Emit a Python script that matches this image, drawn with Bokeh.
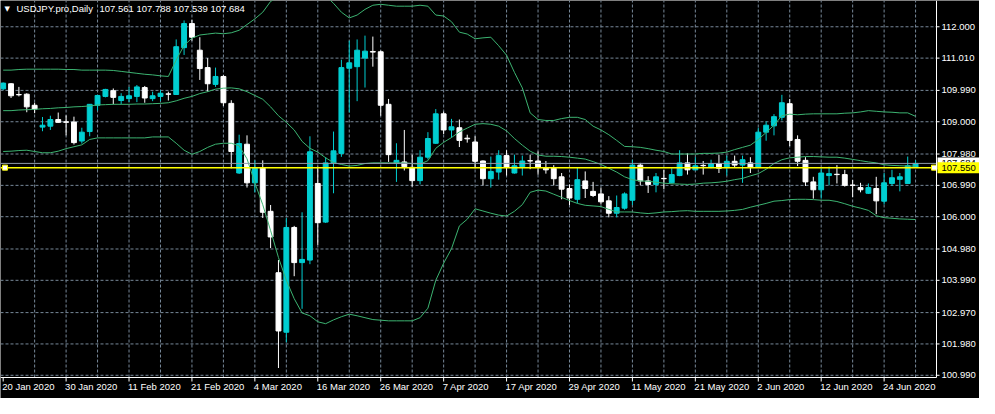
from bokeh.plotting import figure
from bokeh.models import Range1d, ColumnDataSource
from bokeh.core.properties import value
from bokeh.embed import file_html
from bokeh.resources import INLINE

symbol_text = "USDJPY.pro,Daily"
last_ohlc_text = "107.561 107.788 107.539 107.684"

opens = [110.04, 110.20, 109.86, 109.87, 109.52, 108.83, 108.86, 109.07, 109.00, 108.99,
         108.39, 108.69, 109.52, 109.80, 109.98, 109.67, 109.73, 109.80, 110.08, 109.73,
         109.80, 109.88, 109.86, 111.34, 112.10, 111.26, 110.71, 110.18, 110.43, 109.58,
         107.38, 108.29, 107.07, 107.53, 106.17, 104.23, 102.35, 105.66, 104.55, 104.63,
         107.05, 105.83, 107.70, 108.00, 110.69, 110.74, 111.01, 111.22, 111.21, 109.55,
         107.68, 107.73, 107.56, 107.14, 107.88, 108.32, 109.25, 108.74, 108.81, 108.48,
         108.36, 107.76, 107.20, 107.41, 107.93, 107.38, 107.58, 107.77, 107.76, 107.53,
         107.53, 107.26, 106.89, 106.55, 107.13, 106.80, 106.72, 106.50, 106.11, 106.27,
         106.52, 107.63, 107.13, 107.02, 107.21, 107.07, 107.30, 107.70, 107.48, 107.62,
         107.56, 107.68, 107.55, 107.75, 107.63, 107.70, 107.56, 108.67, 108.87, 109.14,
         109.57, 108.44, 107.78, 107.10, 106.85, 107.30, 107.34, 107.33, 107.00, 106.92,
         106.74, 106.89, 106.49, 107.05, 107.18, 107.05, 107.561]

highs = [110.24, 110.22, 110.10, 109.90, 109.60, 109.15, 109.19, 109.29, 109.20, 109.16,
         108.81, 109.56, 109.85, 110.04, 110.05, 109.90, 110.10, 110.16, 110.13, 109.95,
         110.00, 109.95, 111.60, 112.20, 112.22, 111.67, 111.01, 110.71, 110.47, 109.68,
         108.59, 108.57, 107.78, 107.78, 106.37, 104.63, 105.96, 105.71, 106.14, 108.54,
         107.58, 107.88, 108.69, 110.96, 111.56, 111.60, 111.72, 111.69, 111.25, 109.72,
         108.32, 108.74, 107.96, 108.10, 108.67, 109.40, 109.32, 109.09, 109.07, 108.59,
         108.54, 107.78, 107.90, 108.10, 108.10, 107.96, 107.93, 107.96, 108.06, 107.76,
         107.63, 107.38, 107.02, 107.55, 107.43, 107.10, 106.92, 106.65, 106.67, 106.77,
         107.80, 107.70, 107.28, 107.38, 107.48, 107.53, 108.10, 108.00, 107.88, 107.76,
         107.80, 107.96, 107.93, 107.93, 107.93, 107.88, 108.81, 109.01, 109.24, 109.85,
         109.72, 108.57, 107.88, 107.26, 107.53, 107.58, 107.63, 107.48, 107.16, 107.07,
         107.05, 107.26, 107.38, 107.48, 107.38, 107.90, 107.788]

lows = [110.00, 109.75, 109.80, 109.30, 109.27, 108.70, 108.74, 108.97, 108.57, 108.28,
        108.31, 108.54, 109.35, 109.77, 109.55, 109.55, 109.62, 109.62, 109.60, 109.65,
        109.65, 109.67, 109.86, 111.11, 111.56, 110.32, 109.95, 110.10, 109.50, 107.53,
        107.35, 106.92, 106.77, 105.96, 105.01, 101.22, 102.03, 104.12, 103.09, 104.50,
        105.11, 105.80, 106.74, 107.89, 109.29, 109.65, 110.08, 110.74, 109.19, 107.73,
        107.10, 107.46, 106.95, 107.02, 107.81, 108.30, 108.61, 108.49, 108.20, 108.34,
        107.53, 106.99, 106.92, 107.17, 107.30, 107.36, 107.30, 107.50, 107.33, 107.36,
        106.99, 106.55, 106.37, 106.42, 106.59, 106.62, 106.39, 105.98, 105.98, 106.22,
        106.37, 106.99, 106.75, 106.77, 106.87, 107.05, 107.28, 107.33, 107.47, 107.33,
        107.53, 107.38, 107.30, 107.56, 107.07, 107.38, 107.55, 108.40, 108.57, 109.04,
        108.23, 107.60, 106.97, 106.57, 106.57, 106.99, 107.05, 106.95, 106.62, 106.77,
        106.72, 106.08, 106.39, 106.97, 106.80, 107.05, 107.539]

closes = [110.22, 109.82, 109.85, 109.47, 109.40, 108.89, 109.07, 108.98, 108.98, 108.34,
          108.67, 109.55, 109.83, 110.02, 109.77, 109.80, 109.82, 110.10, 109.75, 109.82,
          109.90, 109.87, 111.37, 112.10, 111.67, 110.68, 110.20, 110.43, 109.60, 108.06,
          108.31, 107.07, 107.53, 106.14, 105.36, 102.39, 105.66, 104.55, 104.65, 108.05,
          105.81, 107.70, 108.08, 110.71, 110.86, 111.26, 111.23, 111.20, 109.52, 107.96,
          107.78, 107.58, 107.14, 107.88, 108.47, 109.25, 108.74, 108.84, 108.41, 108.46,
          107.75, 107.20, 107.43, 107.93, 107.56, 107.61, 107.76, 107.76, 107.56, 107.48,
          107.20, 106.87, 106.59, 107.17, 106.89, 106.67, 106.47, 106.11, 106.29, 106.72,
          107.63, 107.13, 107.02, 107.26, 107.20, 107.33, 107.70, 107.48, 107.61, 107.61,
          107.68, 107.53, 107.75, 107.63, 107.80, 107.56, 108.67, 108.89, 109.16, 109.60,
          108.41, 107.75, 107.10, 106.85, 107.38, 107.36, 107.33, 106.99, 106.99, 106.85,
          106.92, 106.50, 107.07, 107.23, 107.26, 107.61, 107.684]

bb_upper = [110.63, 110.63, 110.65, 110.66, 110.66, 110.66, 110.66, 110.66, 110.65, 110.65,
            110.63, 110.63, 110.63, 110.63, 110.62, 110.59, 110.56, 110.53, 110.50, 110.48,
            110.45, 110.43, 110.95, 111.41, 111.64, 111.74, 111.77, 111.80, 111.78, 111.81,
            111.89, 112.07, 112.25, 112.46, 112.80, 112.95, 113.13, 113.25, 113.31, 113.28,
            113.19, 112.98, 112.74, 112.46, 112.28, 112.37, 112.55, 112.68, 112.71, 112.68,
            112.65, 112.65, 112.65, 112.68, 112.65, 112.37, 112.34, 112.16, 111.83, 111.77,
            111.62, 111.65, 111.67, 111.40, 111.10, 110.56, 110.07, 109.28, 109.07, 109.04,
            109.04, 109.10, 109.14, 109.14, 109.07, 108.86, 108.74, 108.59, 108.41, 108.22,
            108.21, 108.19, 108.15, 108.10, 108.06, 107.98, 107.98, 107.98, 107.98, 108.00,
            108.00, 108.01, 108.04, 108.12, 108.19, 108.26, 108.44, 108.66, 108.89, 109.19,
            109.24, 109.22, 109.24, 109.25, 109.25, 109.25, 109.25, 109.27, 109.28, 109.31,
            109.35, 109.33, 109.31, 109.30, 109.28, 109.28, 109.17]

bb_middle = [109.35, 109.35, 109.37, 109.38, 109.39, 109.41, 109.42, 109.44, 109.45, 109.47,
             109.48, 109.50, 109.53, 109.54, 109.55, 109.55, 109.55, 109.56, 109.56, 109.57,
             109.58, 109.60, 109.66, 109.74, 109.80, 109.89, 109.95, 110.03, 110.06, 110.07,
             110.04, 109.95, 109.83, 109.71, 109.47, 109.19, 108.98, 108.74, 108.38, 108.16,
             108.04, 107.86, 107.71, 107.65, 107.60, 107.62, 107.68, 107.70, 107.70, 107.70,
             107.70, 107.70, 107.68, 107.66, 107.77, 108.16, 108.35, 108.50, 108.68, 108.80,
             108.92, 108.94, 108.92, 108.86, 108.71, 108.47, 108.26, 108.07, 107.95, 107.91,
             107.91, 107.90, 107.88, 107.85, 107.82, 107.74, 107.65, 107.53, 107.41, 107.26,
             107.17, 107.13, 107.12, 107.09, 107.06, 107.04, 107.03, 107.02, 107.03, 107.06,
             107.07, 107.09, 107.12, 107.17, 107.21, 107.29, 107.36, 107.50, 107.68, 107.80,
             107.86, 107.88, 107.90, 107.90, 107.89, 107.88, 107.88, 107.85, 107.81, 107.77,
             107.73, 107.70, 107.64, 107.62, 107.61, 107.60, 107.60]

bb_lower = [108.06, 108.07, 108.09, 108.10, 108.06, 108.02, 108.02, 108.07, 108.15, 108.21,
            108.27, 108.44, 108.49, 108.49, 108.49, 108.49, 108.49, 108.49, 108.49, 108.52,
            108.52, 108.52, 108.32, 108.10, 107.97, 108.06, 108.19, 108.29, 108.32, 108.32,
            108.24, 107.83, 107.07, 106.38, 105.56, 104.71, 103.99, 103.41, 102.96, 102.87,
            102.68, 102.62, 102.74, 102.84, 102.92, 102.87, 102.81, 102.75, 102.73, 102.71,
            102.71, 102.71, 102.71, 102.81, 103.11, 103.99, 104.53, 104.99, 105.71, 105.92,
            106.25, 106.18, 106.11, 106.05, 106.02, 106.17, 106.38, 106.77, 106.84, 106.81,
            106.71, 106.61, 106.51, 106.42, 106.36, 106.34, 106.32, 106.23, 106.15, 106.15,
            106.15, 106.12, 106.10, 106.12, 106.15, 106.16, 106.18, 106.19, 106.17, 106.17,
            106.17, 106.17, 106.18, 106.20, 106.23, 106.30, 106.36, 106.42, 106.49, 106.51,
            106.54, 106.55, 106.55, 106.54, 106.52, 106.52, 106.48, 106.41, 106.33, 106.27,
            106.20, 106.03, 105.97, 105.95, 105.93, 105.92, 105.91]

date_tick_index = [0, 8, 16, 24, 32, 40, 48, 56, 64, 72, 80, 88, 96, 104, 112]
date_tick_labels = ["20 Jan 2020", "30 Jan 2020", "11 Feb 2020", "21 Feb 2020", "4 Mar 2020",
                    "16 Mar 2020", "26 Mar 2020", "7 Apr 2020", "17 Apr 2020", "29 Apr 2020",
                    "11 May 2020", "21 May 2020", "2 Jun 2020", "12 Jun 2020", "24 Jun 2020"]
price_ticks = [100.99, 101.98, 102.97, 103.99, 104.98, 106.00, 106.99, 107.98, 109.00, 109.99, 111.01, 112.00]
price_tick_labels = ["100.990", "101.980", "102.970", "103.990", "104.980", "106.000",
                     "106.990", "107.980", "109.000", "109.990", "111.010", "112.000"]
hline_price = 107.55
hline_label = "107.550"
bid_price = 107.684
bid_label = "107.684"

BULL = "#00CED1"
BEAR = "#FFFFFF"
BAND = "#3CB371"
GRID = "#778899"
FONT = "Liberation Sans"

# canvas and chart-area geometry (the price scale and time scale are drawn in the frame)
W, H = 979, 398
CW, CH = 936, 377
x_lo, x_hi = -0.34, 118.66
y_lo, y_hi = 100.92, 112.83
px_x = CW / (x_hi - x_lo)
px_y = CH / (y_hi - y_lo)
dx, dy = 1.0 / px_x, 1.0 / px_y
x_full = x_lo + W / px_x
y_full = y_hi - H / px_y

n = len(opens)
idx = list(range(n))
colors = [BULL if c > o else BEAR for o, c in zip(opens, closes)]
src = ColumnDataSource(dict(
    x=idx, open=opens, high=highs, low=lows, close=closes,
    top=[max(o, c) for o, c in zip(opens, closes)],
    bottom=[min(o, c) for o, c in zip(opens, closes)],
    color=colors))

p = figure(width=W, height=H, x_range=Range1d(x_lo, x_full), y_range=Range1d(y_full, y_hi),
           output_backend="svg", toolbar_location=None, x_axis_location=None, y_axis_location=None,
           min_border=0, background_fill_color="black", border_fill_color="black",
           outline_line_color=None)
p.xgrid.visible = False
p.ygrid.visible = False

# dashed grid inside the chart area
grid_x = list(range(4, n, 4))
p.segment(x0=grid_x, y0=[y_lo] * len(grid_x), x1=grid_x, y1=[y_hi] * len(grid_x),
          line_color=GRID, line_width=1, line_dash="3 2")
p.segment(x0=[x_lo] * len(price_ticks), y0=price_ticks, x1=[x_hi] * len(price_ticks), y1=price_ticks,
          line_color=GRID, line_width=1, line_dash="3 2")

# candles
p.segment(x0="x", y0="low", x1="x", y1="high", line_color="color", line_width=1, source=src)
p.vbar(x="x", width=0.62, top="top", bottom="bottom", fill_color="color", line_color="color",
       line_width=1, source=src)

# Bollinger bands
for band in (bb_upper, bb_middle, bb_lower):
    p.line(idx, band, line_color=BAND, line_width=1)

# bid line and horizontal line object
p.segment(x0=[x_lo], y0=[bid_price], x1=[x_hi], y1=[bid_price], line_color="#8f9bab", line_width=1)
p.segment(x0=[x_lo], y0=[hline_price], x1=[x_hi], y1=[hline_price], line_color="#FFFF00", line_width=1.5)
p.scatter(x=[x_lo + 4.5 * dx, x_hi - 2.5 * dx], y=[hline_price, hline_price], marker="square", size=5,
          fill_color="white", line_color="#FFFF00", line_width=1)

# price scale (right) and time scale (bottom)
p.segment(x0=[x_hi, x_lo], y0=[y_lo, y_lo], x1=[x_hi, x_hi], y1=[y_hi, y_lo], line_color="white", line_width=1)
p.segment(x0=[x_hi] * len(price_ticks), y0=price_ticks, x1=[x_hi + 3 * dx] * len(price_ticks), y1=price_ticks,
          line_color="white", line_width=1)
p.text(x=[x_hi + 5 * dx] * len(price_ticks), y=price_ticks, text=price_tick_labels, text_color="white",
       text_font=value(FONT), text_font_size=value("9.5px"), text_baseline="middle", text_align="left")
p.segment(x0=date_tick_index, y0=[y_lo] * len(date_tick_index), x1=date_tick_index,
          y1=[y_lo - 4 * dy] * len(date_tick_index), line_color="white", line_width=1)
p.text(x=[i - 1 * dx for i in date_tick_index], y=[y_lo - 3 * dy] * len(date_tick_index), text=date_tick_labels,
       text_color="white", text_font=value(FONT), text_font_size=value("9.5px"),
       text_baseline="top", text_align="left")

# price boxes on the scale: bid box first, the line's yellow box over it
p.quad(left=[x_hi + dx], right=[x_full], top=[bid_price + 6 * dy], bottom=[bid_price - 6 * dy],
       fill_color="white", line_color=None)
p.text(x=[x_hi + 5 * dx], y=[bid_price], text=[bid_label], text_color="black",
       text_font=value(FONT), text_font_size=value("9.5px"), text_baseline="middle", text_align="left")
p.quad(left=[x_hi + dx], right=[x_full], top=[hline_price + 5.5 * dy], bottom=[hline_price - 5.5 * dy],
       fill_color="#FFFF00", line_color=None)
p.text(x=[x_hi + 5 * dx], y=[hline_price], text=[hline_label], text_color="black",
       text_font=value(FONT), text_font_size=value("9.5px"), text_baseline="middle", text_align="left")

# header
p.text(x=[x_lo + 4 * dx], y=[y_hi - 8.5 * dy], text=["\u25bc"], text_color="white",
       text_font=value("DejaVu Sans"), text_font_size=value("7px"), text_baseline="middle", text_align="left")
p.text(x=[x_lo + 16 * dx, x_lo + 99 * dx], y=[y_hi - 8 * dy] * 2, text=[symbol_text, last_ohlc_text],
       text_color="white", text_font=value(FONT), text_font_size=value("9.5px"),
       text_baseline="middle", text_align="left")

open("out.html", "w").write(file_html(p, INLINE))
